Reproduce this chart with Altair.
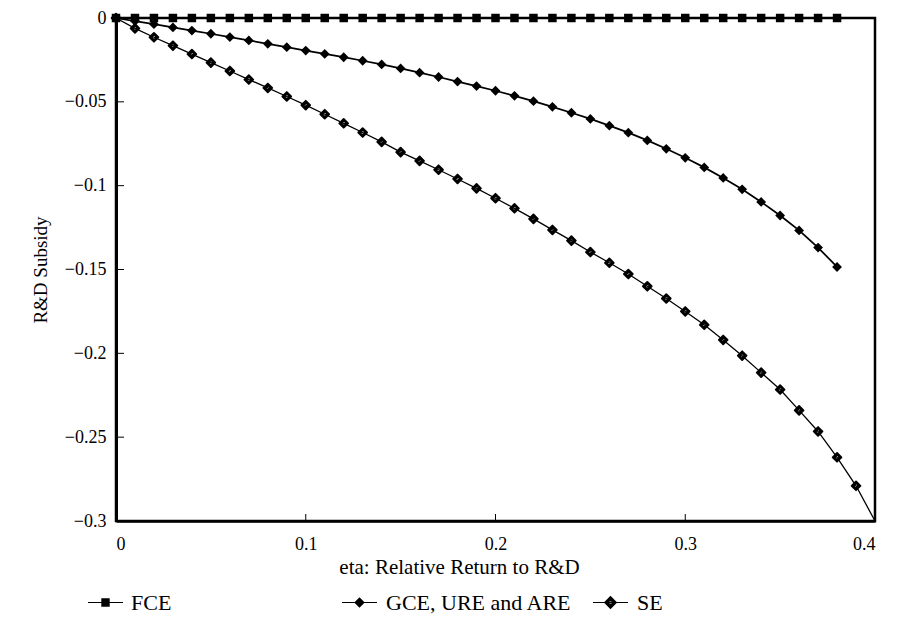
import altair as alt
import pandas as pd

# eta grid (x values of the markers)
eta = [0.00, 0.01, 0.02, 0.03, 0.04, 0.05, 0.06, 0.07, 0.08, 0.09,
       0.10, 0.11, 0.12, 0.13, 0.14, 0.15, 0.16, 0.17, 0.18, 0.19,
       0.20, 0.21, 0.22, 0.23, 0.24, 0.25, 0.26, 0.27, 0.28, 0.29,
       0.30, 0.31, 0.32, 0.33, 0.34, 0.35, 0.36, 0.37, 0.38, 0.39, 0.40]

fce = [0, 0, 0, 0, 0, 0, 0, 0, 0, 0,
       0, 0, 0, 0, 0, 0, 0, 0, 0, 0,
       0, 0, 0, 0, 0, 0, 0, 0, 0, 0,
       0, 0, 0, 0, 0, 0, 0, 0, 0]

gce = [0, -0.0018, -0.0037, -0.0056, -0.0075, -0.0094, -0.0114, -0.0134, -0.0154, -0.0174,
       -0.0194, -0.0214, -0.0234, -0.0255, -0.0277, -0.0301, -0.0326, -0.0352, -0.0379, -0.0406,
       -0.0434, -0.0464, -0.0496, -0.0530, -0.0565, -0.0602, -0.0642, -0.0684, -0.0730, -0.0780,
       -0.0834, -0.0891, -0.0954, -0.1022, -0.1097, -0.1178, -0.1267, -0.1369, -0.1485]

se = [0, -0.0062, -0.0115, -0.0165, -0.0215, -0.0266, -0.0316, -0.0367, -0.0417, -0.0468,
      -0.0520, -0.0574, -0.0628, -0.0683, -0.0739, -0.0800, -0.0852, -0.0905, -0.0960, -0.1016,
      -0.1075, -0.1135, -0.1198, -0.1264, -0.1328, -0.1396, -0.1460, -0.1527, -0.1600, -0.1673,
      -0.1750, -0.1830, -0.1920, -0.2014, -0.2115, -0.2216, -0.2340, -0.2466, -0.2620, -0.2790,
      -0.3000]
se_marked = [True] * 40 + [False]

series_names = ["FCE", "GCE, URE and ARE", "SE"]
x_ticks = [0, 0.1, 0.2, 0.3, 0.4]
y_ticks = [0, -0.05, -0.1, -0.15, -0.2, -0.25, -0.3]

rows = []
for e, v in zip(eta, fce):
    rows.append({"eta": e, "val": v, "series": "FCE", "marked": True})
for e, v in zip(eta, gce):
    rows.append({"eta": e, "val": v, "series": "GCE, URE and ARE", "marked": True})
for e, v, m in zip(eta, se, se_marked):
    rows.append({"eta": e, "val": v, "series": "SE", "marked": m})
df = pd.DataFrame(rows)

FONT = "Times New Roman, Liberation Serif, DejaVu Serif, serif"
W, H = 759, 503

xs = alt.Scale(domain=[0, 0.4], nice=False, zero=False)
ys = alt.Scale(domain=[-0.3, 0], nice=False, zero=False)

x_enc = alt.X("eta:Q", scale=xs, axis=alt.Axis(
    values=x_ticks, format="~g", title="eta: Relative Return to R&D",
    ticks=False, grid=False, domainColor="black", domainWidth=2.5,
    labelFont=FONT, labelFontSize=18, labelColor="black", labelPadding=14,
    titleFont=FONT, titleFontSize=21, titleFontWeight="normal", titleColor="black",
    titlePadding=3, titleX=343, titleAlign="center"))
y_enc = alt.Y("val:Q", scale=ys, axis=alt.Axis(
    values=y_ticks, format="~g", title="R&D Subsidy",
    ticks=False, grid=False, domainColor="black", domainWidth=3,
    labelFont=FONT, labelFontSize=18, labelColor="black", labelPadding=10,
    titleFont=FONT, titleFontSize=19, titleFontWeight="normal", titleColor="black",
    titlePadding=14))

base_lines = alt.Chart(df).mark_line(color="black", clip=False).encode(
    x=x_enc, y=y_enc, detail="series:N",
    strokeWidth=alt.StrokeWidth("series:N", scale=alt.Scale(domain=series_names, range=[2.2, 1.3, 1.3]), legend=None))

marker_paths = [
    "M-1,-1H1V1H-1Z",
    "M0,-1L1,0L0,1L-1,0Z",
    "M-0.12,-0.92Q0,-1.04,0.12,-0.92L0.92,-0.12Q1.04,0,0.92,0.12L0.12,0.92Q0,1.04,-0.12,0.92"
    "L-0.92,0.12Q-1.04,0,-0.92,-0.12Z M-0.17,-0.17L-0.17,0.17L0.17,0.17L0.17,-0.17Z",
]
points = alt.Chart(df).transform_filter("datum.marked").mark_point(
    filled=True, color="black", opacity=1, strokeWidth=0, clip=False).encode(
    x="eta:Q", y="val:Q",
    shape=alt.Shape("series:N", scale=alt.Scale(domain=series_names, range=marker_paths), legend=None),
    size=alt.Size("series:N", scale=alt.Scale(domain=series_names, range=[72, 120, 200]), legend=None))

# legend symbols: short line with the series marker (35 px box)
legend_paths = [
    "M-1,-0.03H1V0.03H-1Z M-0.24,-0.24H0.24V0.24H-0.24Z",
    "M-1,-0.03H1V0.03H-1Z M0,-0.3L0.3,0L0,0.3L-0.3,0Z",
    "M-1,-0.03H1V0.03H-1Z M0,-0.38L0.38,0L0,0.38L-0.38,0Z M-0.06,-0.06L-0.06,0.06L0.06,0.06L0.06,-0.06Z",
]
legend_x = [-28, 226, 477]
legend_offset = [8, 9, 9]


def legend_layer(i):
    name = series_names[i]
    return alt.Chart(df).transform_filter("false").mark_point(
        filled=True, color="black").encode(
        x="eta:Q", y="val:Q",
        shape=alt.Shape("series:N", scale=alt.Scale(domain=[name], range=[legend_paths[i]]),
                        legend=alt.Legend(
                            title=None, orient="none", legendX=legend_x[i], legendY=567,
                            padding=0, symbolSize=1225,
                            symbolFillColor="black", symbolStrokeColor="black",
                            symbolStrokeWidth=0, symbolOpacity=1,
                            labelFont=FONT, labelFontSize=22, labelColor="black",
                            labelOffset=legend_offset[i], labelLimit=400)))


tick_x = pd.DataFrame({"t": x_ticks[1:4]})
tick_y = pd.DataFrame({"t": y_ticks[1:6]})
xt = alt.Chart(tick_x).mark_rule(color="black", strokeWidth=1).encode(
    x=alt.X("t:Q", scale=xs), y=alt.value(H), y2=alt.value(H - 7))
yt = alt.Chart(tick_y).mark_rule(color="black", strokeWidth=1).encode(
    y=alt.Y("t:Q", scale=ys), x=alt.value(0), x2=alt.value(8))

chart = alt.layer(
    base_lines, points, legend_layer(0), legend_layer(1), legend_layer(2), xt, yt
).resolve_scale(
    shape="independent", size="independent"
).resolve_legend(shape="independent").properties(
    width=W, height=H,
    autosize=alt.AutoSizeParams(type="none"),
    padding={"left": 108, "top": 10, "right": 21, "bottom": 98},
).configure_view(stroke="black", strokeWidth=2.5)

chart.save("out.html", embed_options={"renderer": "svg", "actions": False})
